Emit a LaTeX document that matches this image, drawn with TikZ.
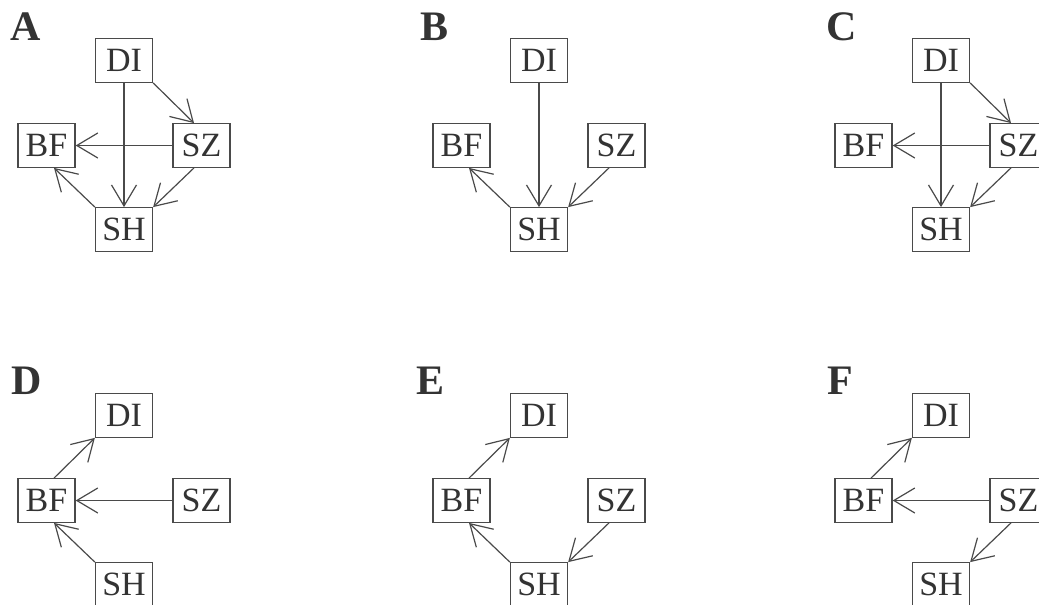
\documentclass[tikz,border=0pt]{standalone}
\usepackage{fontspec}
\setmainfont{Liberation Serif}
\usetikzlibrary{arrows.meta,calc}

\definecolor{ink}{HTML}{333333}
\definecolor{edge}{HTML}{4A4A4A}

\tikzset{
  box/.style={draw=edge, line width=1.3pt, minimum width=57pt, minimum height=43.5pt,
    inner sep=0pt, text=ink, font=\fontsize{34}{34}\selectfont,
    text height=22.5pt, text depth=0pt},
  arr/.style={draw=edge, line width=1.2pt,
    -{Straight Barb[length=21pt, width=25pt, line width=1.2pt]}},
  panellabel/.style={anchor=base west, inner sep=0pt, text=ink,
    font=\fontsize{42}{42}\selectfont\bfseries}
}

% the four variable boxes of one panel, named with a prefix
\newcommand\varboxes[3]{%
  \begin{scope}[shift={(#2,#3)}]
    \node[box] (#1DI) at (124,60.5) {DI};
    \node[box] (#1BF) at (46.5,145.5) {BF};
    \node[box] (#1SZ) at (201.5,145.5) {SZ};
    \node[box] (#1SH) at (124,229.5) {SH};
  \end{scope}}

\begin{document}
\begin{tikzpicture}[x=1pt, y=-1pt]
  \useasboundingbox (0,0) rectangle (1039,605);
  \clip (0,0) rectangle (1039,605);
  \fill[white] (0,0) rectangle (1039,605);

  % panel letters
  \node[panellabel] (labA) at (10,40) {A};
  \node[panellabel] (labB) at (420,40) {B};
  \node[panellabel] (labC) at (826,40) {C};
  \node[panellabel] (labD) at (11,394.5) {D};
  \node[panellabel] (labE) at (416,394.5) {E};
  \node[panellabel] (labF) at (827,394.5) {F};

  \varboxes{a}{0}{0}
  \varboxes{b}{415}{0}
  \varboxes{c}{817}{0}
  \varboxes{d}{0}{355}
  \varboxes{e}{415}{355}
  \varboxes{f}{817}{355}

  % A
  \draw[arr] (aDI.south east) -- ($(aSZ.north)+(-7.5,0)$);
  \draw[arr] (aDI.south) -- (aSH.north);
  \draw[arr] (aSZ.west) -- (aBF.east);
  \draw[arr] ($(aSZ.south)+(-7.5,0)$) -- (aSH.north east);
  \draw[arr] (aSH.north west) -- ($(aBF.south)+(7.5,0)$);

  % B
  \draw[arr] (bDI.south) -- (bSH.north);
  \draw[arr] ($(bSZ.south)+(-7.5,0)$) -- (bSH.north east);
  \draw[arr] (bSH.north west) -- ($(bBF.south)+(7.5,0)$);

  % C
  \draw[arr] (cDI.south east) -- ($(cSZ.north)+(-7.5,0)$);
  \draw[arr] (cDI.south) -- (cSH.north);
  \draw[arr] (cSZ.west) -- (cBF.east);
  \draw[arr] ($(cSZ.south)+(-7.5,0)$) -- (cSH.north east);

  % D
  \draw[arr] ($(dBF.north)+(7.5,0)$) -- (dDI.south west);
  \draw[arr] (dSZ.west) -- (dBF.east);
  \draw[arr] (dSH.north west) -- ($(dBF.south)+(7.5,0)$);

  % E
  \draw[arr] ($(eBF.north)+(7.5,0)$) -- (eDI.south west);
  \draw[arr] ($(eSZ.south)+(-7.5,0)$) -- (eSH.north east);
  \draw[arr] (eSH.north west) -- ($(eBF.south)+(7.5,0)$);

  % F
  \draw[arr] ($(fBF.north)+(7.5,0)$) -- (fDI.south west);
  \draw[arr] (fSZ.west) -- (fBF.east);
  \draw[arr] ($(fSZ.south)+(-7.5,0)$) -- (fSH.north east);
\end{tikzpicture}
\end{document}
